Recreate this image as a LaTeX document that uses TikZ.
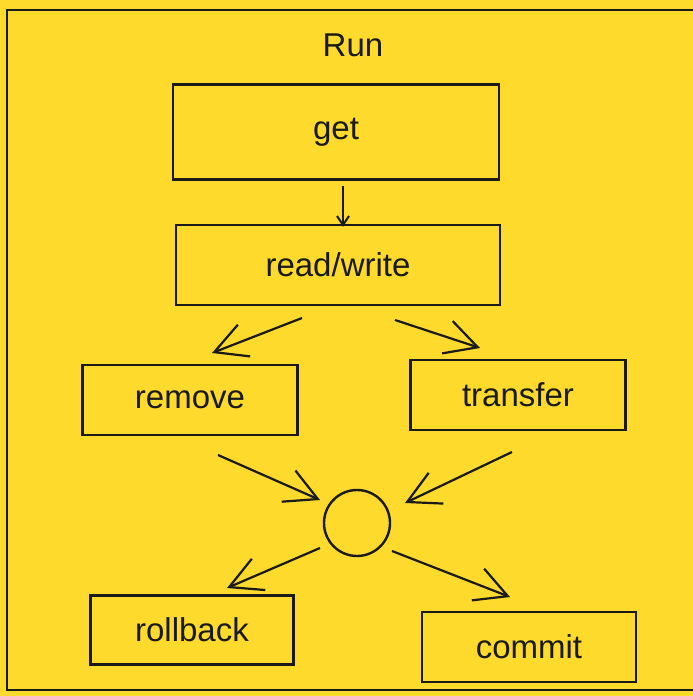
\documentclass[tikz,border=0pt]{standalone}
\usepackage{fontspec}
\setmainfont{Liberation Sans}
\usetikzlibrary{arrows.meta}
\definecolor{bg}{HTML}{FDDA2C}
\definecolor{ink}{HTML}{1A1A1A}
\begin{document}
\begin{tikzpicture}[x=1pt,y=-1pt,
  lbl/.style={font=\fontsize{33}{36}\selectfont, text=ink},
  box/.style={draw=ink, line width=2.4pt, rectangle, inner sep=0pt, font=\fontsize{33}{36}\selectfont, text=ink},
  arr/.style={draw=ink, line width=2.2pt, -{Straight Barb[length=32pt,width=34pt,line width=2.2pt]}},
  sarr/.style={draw=ink, line width=2pt, -{Straight Barb[length=9pt,width=12pt,line width=2pt]}}]
\useasboundingbox (0,0) rectangle (693,696);
\fill[bg] (0,0) rectangle (693,696);
\draw[ink, line width=2.4pt] (693,10) -- (7,10) -- (7,690) -- (693,690);
\node[lbl] (run) at (353,45) {Run};
\node[box, minimum width=326pt, minimum height=95pt] (get) at (336,132) {get};
\node[box, minimum width=324pt, minimum height=80pt] (rw) at (338,265) {read/write};
\node[box, minimum width=215pt, minimum height=70pt] (remove) at (190,400) {remove};
\node[box, minimum width=215pt, minimum height=70pt] (transfer) at (518,395) {transfer};
\node[draw=ink, line width=2.4pt, circle, minimum size=66pt, inner sep=0pt] (join) at (357,523) {};
\node[box, minimum width=203pt, minimum height=69pt] (rollback) at (192,630) {rollback};
\node[box, minimum width=214pt, minimum height=70pt] (commit) at (529,647) {commit};
\coordinate (a1s) at (302,318); \coordinate (a1e) at (212,353);
\coordinate (a2s) at (395,320); \coordinate (a2e) at (480,348);
\coordinate (a3s) at (218,455); \coordinate (a3e) at (320,500);
\coordinate (a4s) at (512,452); \coordinate (a4e) at (405,503);
\coordinate (a5s) at (320,548); \coordinate (a5e) at (227,588);
\coordinate (a6s) at (392,551); \coordinate (a6e) at (510,597);
\draw[sarr] (get.south -| 343,0) ++(0,5) -- ([yshift=-3pt]rw.north -| 343,0);
\draw[arr] (a1s) -- (a1e);
\draw[arr] (a2s) -- (a2e);
\draw[arr] (a3s) -- (a3e);
\draw[arr] (a4s) -- (a4e);
\draw[arr] (a5s) -- (a5e);
\draw[arr] (a6s) -- (a6e);
\end{tikzpicture}
\end{document}
